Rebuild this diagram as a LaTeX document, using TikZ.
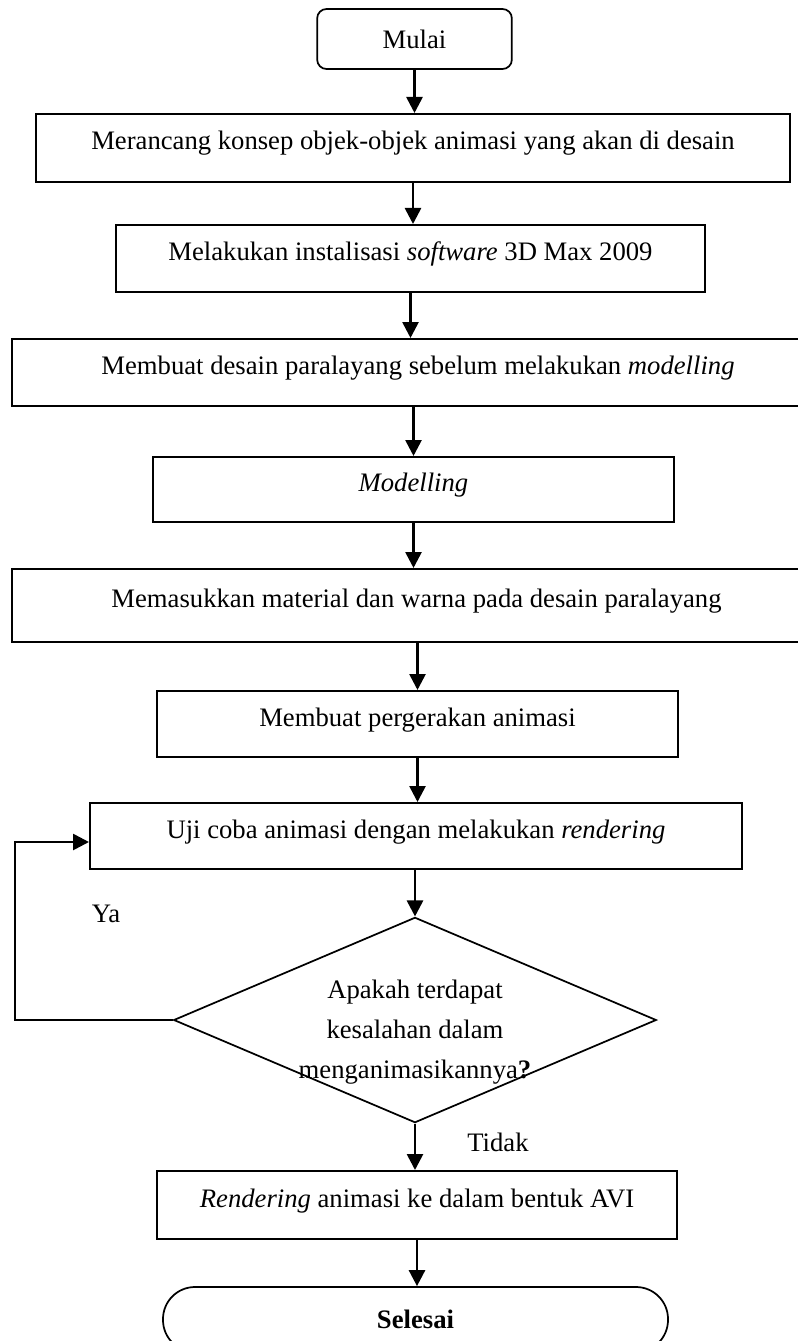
\documentclass[tikz,border=0pt]{standalone}
\usepackage{fontspec}
\setmainfont{Liberation Serif}
\usepackage{tikz}
\usetikzlibrary{shapes.geometric,arrows.meta}
\tikzstyle{procbox}=[rectangle,draw=black,line width=1.5pt,
                     inner sep=0pt,text height=14pt,text depth=11pt]
\tikzstyle{termbox}=[rectangle,draw=black,line width=1.3pt,inner sep=0pt]
\tikzstyle{decision}=[diamond,draw=black,line width=1.3pt,inner sep=0pt,
                      minimum width=362pt,minimum height=154pt]
\tikzstyle{flow}=[line width=2pt,-{Triangle[width=12pt,length=12pt]}]
\tikzstyle{dectext}=[align=center,font=\fontsize{20}{30}\selectfont,yshift=-9pt]

\begin{document}
\begin{tikzpicture}[x=0.75pt,y=-0.75pt,font=\fontsize{20}{24}\selectfont]
    \useasboundingbox (0,0) rectangle (798,1341);
    \node (mulai) at (414.5,39) [termbox,rounded corners=7pt,
          minimum width=146pt,minimum height=45pt]{Mulai};
    \node (b1) at (413,148) [procbox,minimum width=565.5pt,minimum height=51pt]
          {Merancang konsep objek-objek animasi yang akan di desain};
    \node (b2) at (410.5,258.5) [procbox,minimum width=441.75pt,minimum height=50.25pt]
          {Melakukan instalisasi \textit{software} 3D Max 2009};
    \node (b3) at (418,372.5) [procbox,overlay,minimum width=609pt,minimum height=50.25pt]
          {Membuat desain paralayang sebelum melakukan \textit{modelling}};
    \node (b4) at (413.5,489.5) [procbox,minimum width=390.75pt,minimum height=48.75pt]
          {\textit{Modelling}};
    \node (b5) at (416.5,605.5) [procbox,overlay,minimum width=606.75pt,minimum height=54.75pt]
          {Memasukkan material dan warna pada desain paralayang};
    \node (b6) at (417.5,724) [procbox,minimum width=390.75pt,minimum height=49.5pt]
          {Membuat pergerakan animasi};
    \node (b7) at (416,836) [procbox,minimum width=489pt,minimum height=49.5pt]
          {Uji coba animasi dengan melakukan \textit{rendering}};
    \node (dec) at (415,1020) [decision,label={[dectext]center:Apakah terdapat\\
          kesalahan dalam\\menganimasikannya\textbf{?}}]{};
    \node (b8) at (417,1205) [procbox,minimum width=390pt,minimum height=51pt]
          {\textit{Rendering} animasi ke dalam bentuk AVI};
    \node (selesai) at (415.5,1319.5) [termbox,overlay,rounded corners=24pt,
          minimum width=378.75pt,minimum height=48.75pt]{\textbf{Selesai}};
    \node (ya) at (106,914) {Ya};
    \node (tidak) at (498,1142) {Tidak};
    \coordinate (lp) at (15,842);
    \draw[flow] (mulai.south) -- (mulai.south |- b1.north);
    \draw[flow] (b1.south) -- (b1.south |- b2.north);
    \draw[flow] (b2.south) -- (b2.south |- b3.north);
    \draw[flow] (b4.north |- b3.south) -- (b4.north);
    \draw[flow] (b4.south) -- (b4.south |- b5.north);
    \draw[flow] (b6.north |- b5.south) -- (b6.north);
    \draw[flow] (b6.south) -- (b6.south |- b7.north);
    \draw[flow] (b7.south -| dec.north) -- (dec.north);
    \draw[flow] (dec.south) -- (dec.south |- b8.north);
    \draw[flow] (b8.south) -- (b8.south |- selesai.north);
    \draw[flow] (dec.west) -| (lp) -- (b7.west |- lp);
  \end{tikzpicture}
\end{document}
